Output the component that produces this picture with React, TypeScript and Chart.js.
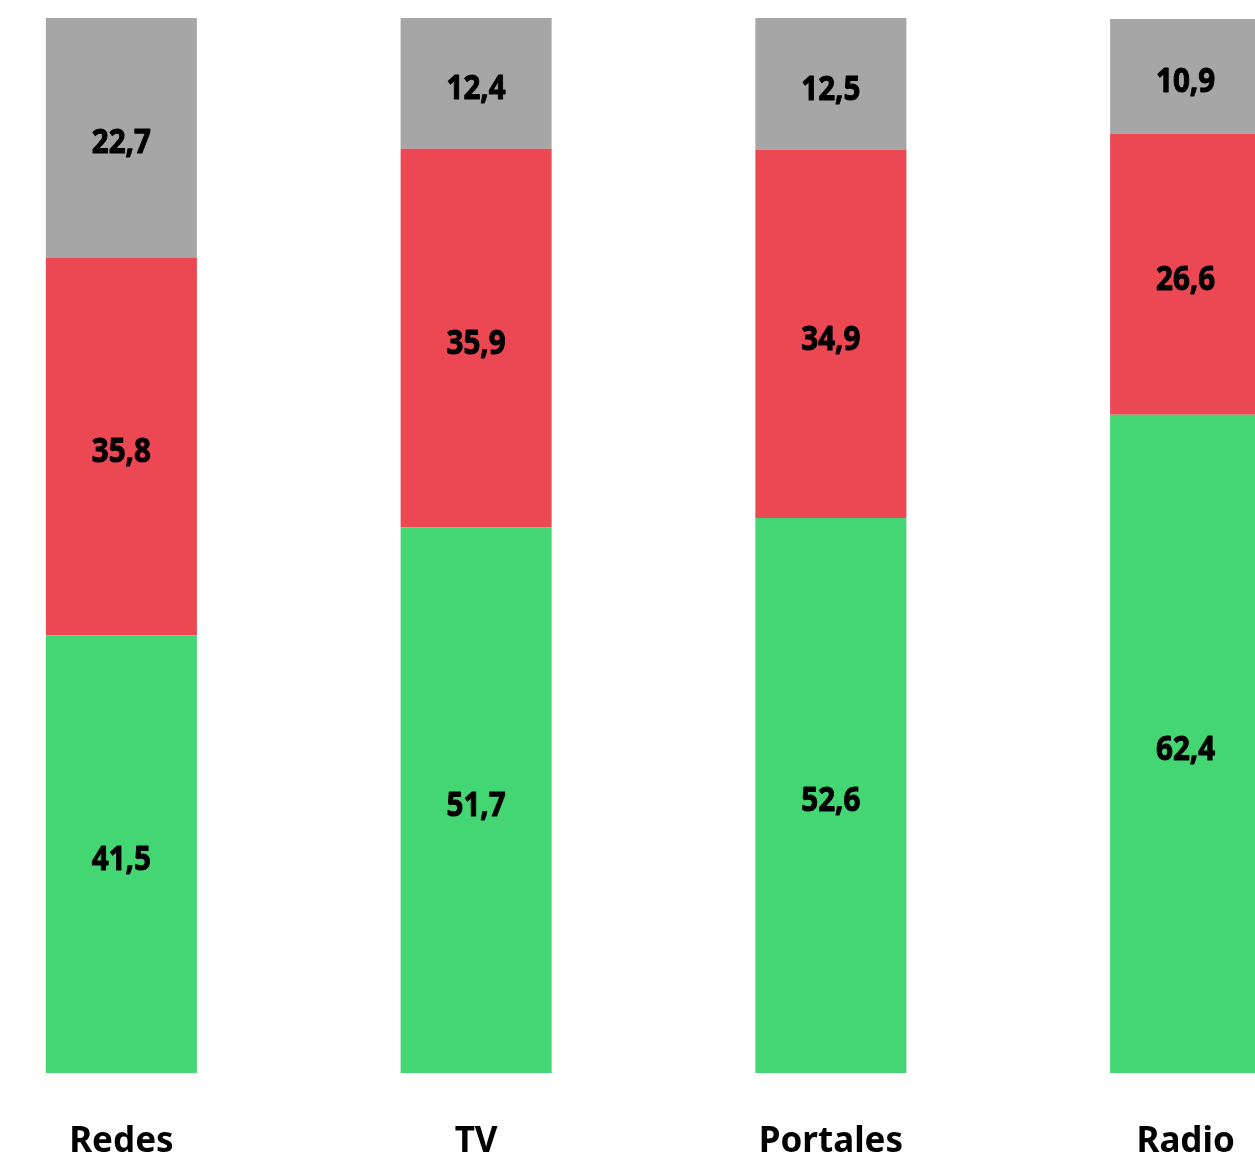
import React, { useEffect, useRef } from "react";
import { Chart, registerables } from "chart.js";

Chart.register(...registerables);

const categories = ["Redes", "TV", "Portales", "Radio"];
const greenValues = [41.5, 51.7, 52.6, 62.4];
const redValues = [35.8, 35.9, 34.9, 26.6];
const grayValues = [22.7, 12.4, 12.5, 10.9];

const GREEN = "#43D672";
const RED = "#EC4853";
const GRAY = "#A6A6A6";

const fmt = (v: number) => v.toFixed(1).replace(".", ",");

const labelPlugin = {
  id: "barLabels",
  afterDatasetsDraw(chart: any) {
    const ctx = chart.ctx;
    chart.data.datasets.forEach((ds: any, i: number) => {
      const meta = chart.getDatasetMeta(i);
      meta.data.forEach((el: any, j: number) => {
        const cy = (el.y + el.base) / 2;
        ctx.save();
        ctx.font = "bold 34px 'Noto Sans'";
        ctx.fillStyle = "#000";
        ctx.strokeStyle = "#000";
        ctx.lineWidth = 1;
        ctx.lineJoin = "round";
        ctx.textAlign = "center";
        ctx.textBaseline = "middle";
        ctx.translate(el.x, cy + 6);
        ctx.scale(0.87, 1);
        ctx.strokeText(fmt(ds.data[j]), 0, 0);
        ctx.fillText(fmt(ds.data[j]), 0, 0);
        ctx.restore();
      });
    });
  },
};

export default function App() {
  const ref = useRef<HTMLCanvasElement | null>(null);
  useEffect(() => {
    if (!ref.current) return;
    const chart = new Chart(ref.current, {
      type: "bar",
      data: {
        labels: categories,
        datasets: [
          { label: "Verde", data: greenValues, backgroundColor: GREEN },
          { label: "Rojo", data: redValues, backgroundColor: RED },
          { label: "Gris", data: grayValues, backgroundColor: GRAY },
        ],
      },
      options: {
        animation: false,
        responsive: false,
        maintainAspectRatio: false,
        layout: { padding: { top: 18, bottom: -55, left: 0, right: 0 } },
        plugins: { legend: { display: false }, tooltip: { enabled: false } },
        datasets: { bar: { categoryPercentage: 1, barPercentage: 151 / 354.7 } },
        scales: {
          x: {
            stacked: true,
            grid: { display: false, drawTicks: false },
            border: { display: false },
            ticks: {
              color: "#000",
              padding: 48,
              font: { family: "'Noto Sans'", size: 35, weight: "bold" },
            },
          },
          y: {
            stacked: true,
            display: false,
            min: 0,
            max: 100,
          },
        },
      },
      plugins: [labelPlugin],
    });
    return () => chart.destroy();
  }, []);
  return (
    <div
      style={{
        position: "fixed",
        left: 0,
        top: 0,
        width: 1255,
        height: 1156,
        overflow: "hidden",
        background: "#fff",
      }}
    >
      <canvas
        ref={ref}
        width={1419}
        height={1156}
        style={{ position: "absolute", left: -56, top: 0, width: 1419, height: 1156 }}
      />
    </div>
  );
}
